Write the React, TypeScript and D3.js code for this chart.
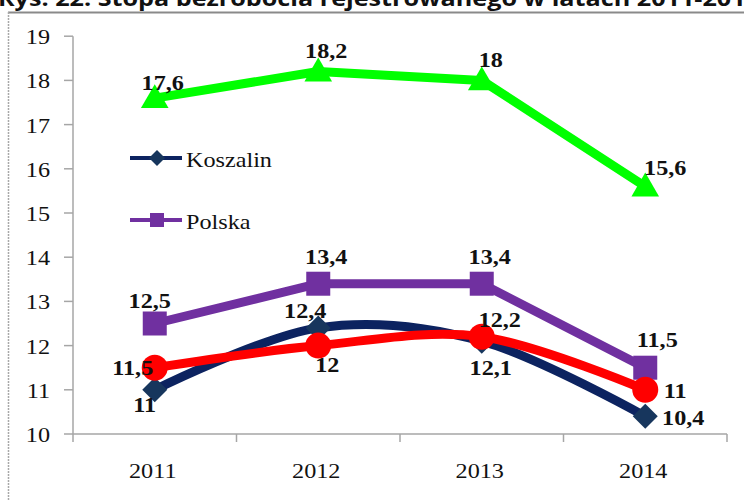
import React from 'react';
import * as d3 from 'd3';

const years = ['2011', '2012', '2013', '2014'];
const greenSeries = [17.6, 18.2, 18, 15.6];
const polska = [12.5, 13.4, 13.4, 11.5];
const koszalin = [11, 12.4, 12.1, 10.4];
const redSeries = [11.5, 12, 12.2, 11];
const yTicks = [10, 11, 12, 13, 14, 15, 16, 17, 18, 19];
const title = 'Rys. 22. Stopa bezrobocia rejestrowanego w latach 2011-2014';

// label offsets (dx, dy) relative to each point
const greenOff = [[8, -8], [8, -13.6], [9, -13.4], [20, -11.5]];
const polskaOff = [[-5, -15.5], [8, -19.7], [8, -19.7], [12, -20.7]];
const koszalinOff = [[-10, 22], [-13, -10], [9, 34], [38, 9]];
const redOff = [[-22, 7], [9, 26], [18, -10], [30, 8]];

const fmt = (v: number) => String(v).replace('.', ',');

const SERIF = '"Liberation Serif", "Times New Roman", serif';

export default function App() {
  const x = d3.scaleBand<string>().domain(years).range([73, 727]);
  const cx = (d: string) => (x(d) as number) + x.bandwidth() / 2;
  const y = d3.scaleLinear().domain([10, 19]).range([434, 36.2]);

  const straight = d3.line<number>().x((_, i) => cx(years[i])).y((v) => y(v));
  const smooth = d3
    .line<number>()
    .x((_, i) => cx(years[i]))
    .y((v) => y(v))
    .curve(d3.curveCardinal.tension(0));

  const tri = d3.symbol().type(d3.symbolTriangle).size(330)();

  const navy = '#0c2360';
  const navyMarker = '#17365d';
  const purple = '#7030a0';
  const green = '#00ff00';
  const red = '#ff0000';

  const T = (props: { x: number; y: number; children: any; anchor?: string; bold?: boolean; size?: number; baseline?: string }) => (
    <text
      transform={`translate(${props.x},${props.y}) scale(1.1,1)`}
      textAnchor={props.anchor || 'middle'}
      dominantBaseline={props.baseline}
      fontFamily={SERIF}
      fontSize={props.size || 22}
      fontWeight={props.bold ? 'bold' : 'normal'}
      fill="#111"
    >
      {props.children}
    </text>
  );

  const labels = (vals: number[], off: number[][], key: string) =>
    vals.map((v, i) => (
      <T key={key + i} x={cx(years[i]) + off[i][0]} y={y(v) + off[i][1]} bold>
        {fmt(v)}
      </T>
    ));

  return (
    <svg width={744} height={500} style={{ position: 'absolute', left: 0, top: 0, background: '#fff' }}>
      <rect x={0} y={0} width={744} height={500} fill="#fff" />
      {/* title (cut off at top) */}
      <text
        x={-2}
        y={6}
        fontFamily='"Open Sans", "Liberation Sans", sans-serif'
        fontWeight="bold"
        fontSize={21}
        textLength={762}
        lengthAdjust="spacingAndGlyphs"
        fill="#111"
      >
        {title}
      </text>
      {/* frame */}
      <line x1={8} x2={744} y1={12.5} y2={12.5} stroke="#8a8a8a" strokeWidth={2} />
      <line x1={8.5} x2={8.5} y1={12} y2={500} stroke="#a8a8a8" strokeWidth={1.5} strokeDasharray="2,1" />

      {/* y axis */}
      <line x1={73} x2={73} y1={y(19)} y2={y(10)} stroke="#a6a6a6" strokeWidth={1.5} />
      {yTicks.map((t) => (
        <g key={'yt' + t}>
          <line x1={64} x2={73} y1={y(t)} y2={y(t)} stroke="#a6a6a6" strokeWidth={1.5} />
          <T x={50} y={y(t) + 8} anchor="end">
            {t}
          </T>
        </g>
      ))}
      {/* x axis */}
      <line x1={73} x2={727} y1={y(10)} y2={y(10)} stroke="#a6a6a6" strokeWidth={1.5} />
      {[...years.map((d) => x(d) as number), 727].map((p, i) => (
        <line key={'xt' + i} x1={p} x2={p} y1={y(10)} y2={y(10) + 8} stroke="#a6a6a6" strokeWidth={1.5} />
      ))}
      {years.map((d) => (
        <T key={'xl' + d} x={cx(d) - 2} y={478}>
          {d}
        </T>
      ))}

      {/* green series */}
      <path d={straight(greenSeries) || ''} fill="none" stroke={green} strokeWidth={9} strokeLinejoin="round" />
      {greenSeries.map((v, i) => (
        <path key={'gm' + i} d={tri || ''} transform={`translate(${cx(years[i])},${y(v) + 2})`} fill={green} />
      ))}

      {/* polska */}
      <path d={straight(polska) || ''} fill="none" stroke={purple} strokeWidth={9} strokeLinejoin="round" />
      {polska.map((v, i) => (
        <rect key={'pm' + i} x={cx(years[i]) - 12} y={y(v) - 12} width={24} height={24} fill={purple} />
      ))}

      {/* koszalin */}
      <path d={smooth(koszalin) || ''} fill="none" stroke={navy} strokeWidth={9} strokeLinecap="round" />
      {koszalin.map((v, i) => (
        <path
          key={'km' + i}
          d="M0,-12.5L12.5,0L0,12.5L-12.5,0Z"
          transform={`translate(${cx(years[i])},${y(v)})`}
          fill={navyMarker}
        />
      ))}

      {/* red series */}
      <path d={smooth(redSeries) || ''} fill="none" stroke={red} strokeWidth={9} strokeLinecap="round" />
      {redSeries.map((v, i) => (
        <circle key={'rm' + i} cx={cx(years[i])} cy={y(v)} r={13} fill={red} />
      ))}

      {/* data labels */}
      {labels(greenSeries, greenOff, 'gl')}
      {labels(polska, polskaOff, 'pl')}
      {labels(koszalin, koszalinOff, 'kl')}
      {labels(redSeries, redOff, 'rl')}

      {/* legend */}
      <line x1={130} x2={182} y1={158} y2={158} stroke={navy} strokeWidth={4} />
      <path d="M0,-8L8,0L0,8L-8,0Z" transform="translate(157,158)" fill={navyMarker} />
      <T x={186} y={167} anchor="start">
        Koszalin
      </T>
      <line x1={130} x2={182} y1={220} y2={220} stroke={purple} strokeWidth={4} />
      <rect x={150} y={213} width={14} height={14} fill={purple} />
      <T x={186} y={229} anchor="start">
        Polska
      </T>
    </svg>
  );
}
